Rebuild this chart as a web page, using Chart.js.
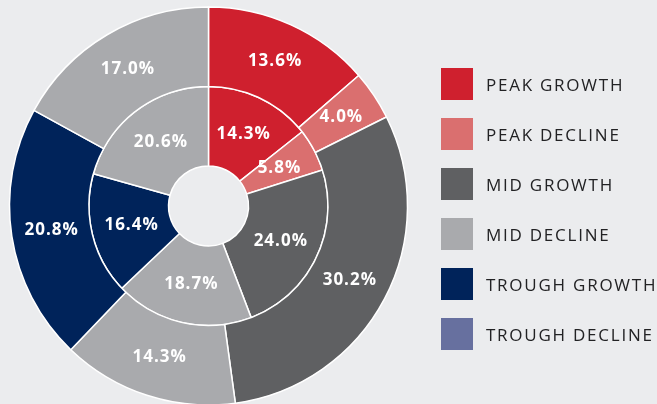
<!DOCTYPE html>
<html>
<head>
<meta charset="utf-8">
<script src="https://cdn.jsdelivr.net/npm/chart.js@4/dist/chart.umd.min.js"></script>
<style>
  html, body { margin: 0; padding: 0; background: #ebecee; overflow: hidden; }
  #wrap { position: relative; width: 657px; height: 404px; }
  #c { position: absolute; left: 0; top: 0; }
  #legend { position: absolute; left: 441px; top: 68px; margin: 0; padding: 0; list-style: none; }
  #legend li { display: flex; align-items: center; height: 32px; margin-bottom: 18px; }
  #legend .sw { width: 32px; height: 32px; margin-right: 13px; flex: none; }
  #legend .tx { font-family: "Open Sans", sans-serif; font-size: 17px; color: #222224; letter-spacing: 1.75px; white-space: nowrap; }
</style>
</head>
<body>
<div id="wrap">
  <canvas id="c" width="657" height="404"></canvas>
  <ul id="legend"></ul>
</div>
<script>
// Legend categories
const legendLabels = ['PEAK GROWTH', 'PEAK DECLINE', 'MID GROWTH', 'MID DECLINE', 'TROUGH GROWTH', 'TROUGH DECLINE'];
// Segment categories (order clockwise from 12 o'clock)
const segmentCategories = ['PEAK GROWTH', 'PEAK DECLINE', 'MID GROWTH', 'MID DECLINE', 'TROUGH GROWTH', 'TROUGH DECLINE'];
// Outer ring values (%)
const outerValues = [13.6, 4.0, 30.2, 14.3, 20.8, 17.0];
// Inner ring values (%)
const innerValues = [14.3, 5.8, 24.0, 18.7, 16.4, 20.6];

// Styles
const legendColors = ['#cf202e', '#da6f6f', '#5f6062', '#a9aaad', '#00235a', '#67709f'];
const segmentColors = ['#cf202e', '#da6f6f', '#5f6062', '#a9aaad', '#00235a', '#a9aaad'];

// HTML legend
const ul = document.getElementById('legend');
legendLabels.forEach((lab, i) => {
  const li = document.createElement('li');
  const sw = document.createElement('span'); sw.className = 'sw'; sw.style.background = legendColors[i];
  const tx = document.createElement('span'); tx.className = 'tx'; tx.textContent = lab;
  li.appendChild(sw); li.appendChild(tx); ul.appendChild(li);
});

const valueLabels = {
  id: 'valueLabels',
  afterDatasetsDraw(chart) {
    const ctx = chart.ctx;
    ctx.save();
    ctx.fillStyle = '#ffffff';
    ctx.font = 'bold 17px "Open Sans", sans-serif';
    if ('letterSpacing' in ctx) ctx.letterSpacing = '1px';
    ctx.textAlign = 'center';
    ctx.textBaseline = 'middle';
    chart.data.datasets.forEach((ds, di) => {
      const meta = chart.getDatasetMeta(di);
      meta.data.forEach((arc, i) => {
        const p = arc.tooltipPosition();
        ctx.fillText(ds.data[i].toFixed(1) + '%', p.x + 0.5, p.y);
      });
    });
    ctx.restore();
  }
};

new Chart(document.getElementById('c'), {
  type: 'doughnut',
  data: {
    labels: segmentCategories,
    datasets: [
      { data: outerValues, backgroundColor: segmentColors, borderColor: '#ffffff', borderWidth: 1.5 },
      { data: innerValues, backgroundColor: segmentColors, borderColor: '#ffffff', borderWidth: 1.5 }
    ]
  },
  options: {
    responsive: false,
    animation: false,
    devicePixelRatio: 1,
    radius: 199,
    cutout: '20.1%',
    layout: { padding: { left: 0, right: 240, top: 8, bottom: 0 } },
    plugins: { legend: { display: false }, tooltip: { enabled: false } }
  },
  plugins: [valueLabels]
});
</script>
</body>
</html>
